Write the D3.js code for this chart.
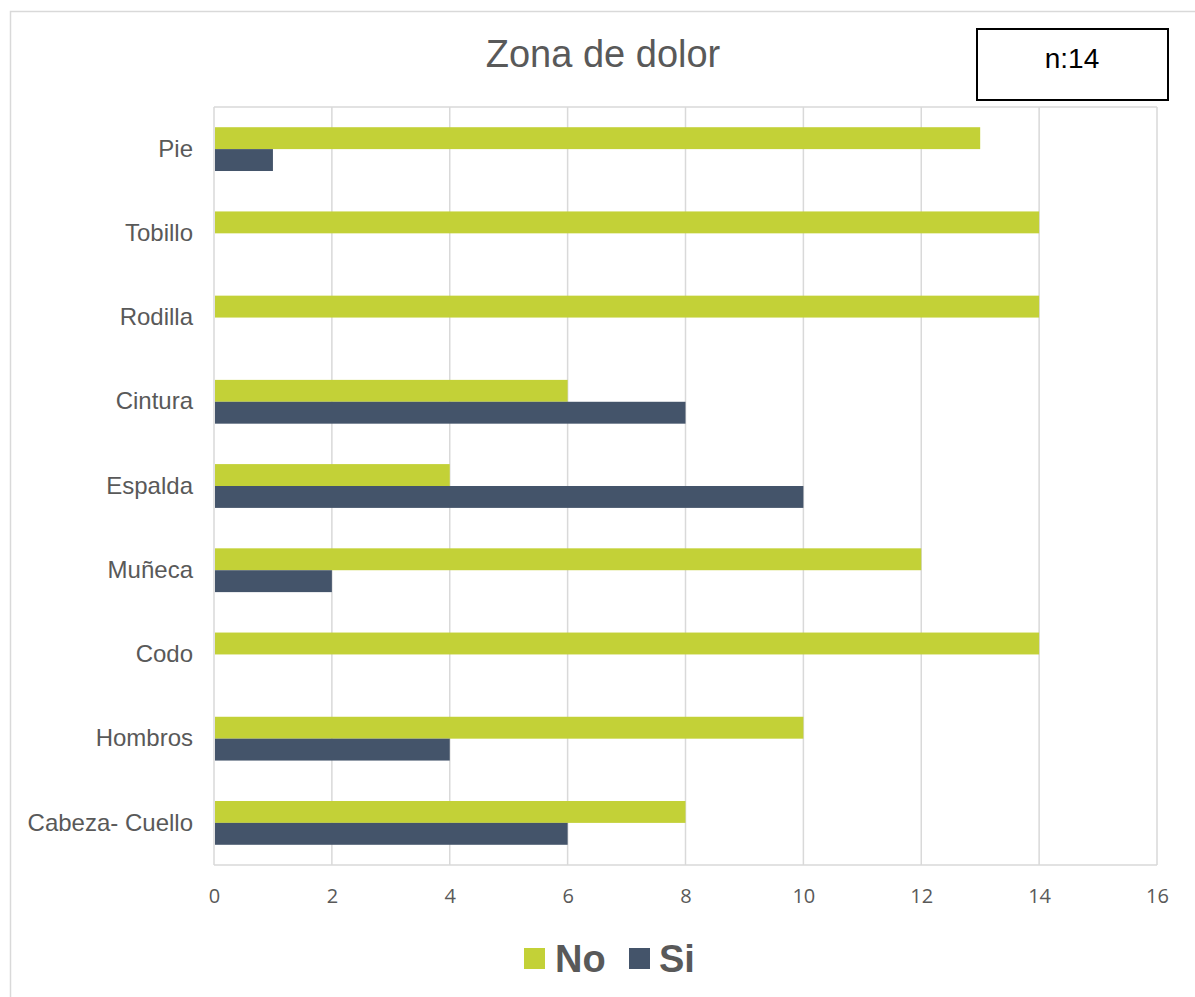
<!DOCTYPE html>
<html>
<head>
<meta charset="utf-8">
<script src="https://cdn.jsdelivr.net/npm/d3@7"></script>
<style>
  html, body { margin: 0; padding: 0; background: #fff; }
  svg { display: block; font-family: "Liberation Sans", Arial, sans-serif; }
</style>
</head>
<body>
<svg id="chart" width="1195" height="997"></svg>
<script>
// Pain zones, bottom-to-top order as listed on the axis
const categories = ["Cabeza- Cuello", "Hombros", "Codo", "Muñeca", "Espalda", "Cintura", "Rodilla", "Tobillo", "Pie"];
const noValues = [8, 10, 14, 12, 4, 6, 14, 14, 13];
const siValues = [6, 4, 0, 2, 10, 8, 0, 0, 1];
const seriesNames = ["No", "Si"];
const seriesColors = ["#c3d137", "#44546a"];
const xTicks = [0, 2, 4, 6, 8, 10, 12, 14, 16];

const svg = d3.select("#chart");
const margin = { left: 214, right: 1157, top: 107, bottom: 865 };

// Outer chart frame
svg.append("rect")
  .attr("x", 10.5).attr("y", 11.5)
  .attr("width", 1200).attr("height", 1000)
  .attr("fill", "none").attr("stroke", "#d9d9d9").attr("stroke-width", 1.5);

const x = d3.scaleLinear().domain([0, 16]).range([margin.left, margin.right]);
const y = d3.scaleBand()
  .domain(categories.slice().reverse())
  .range([margin.top, margin.bottom])
  .paddingInner(0.48).paddingOuter(0.24);
const ySub = d3.scaleBand().domain(seriesNames).range([0, y.bandwidth()]);

// Vertical gridlines
svg.append("g").selectAll("line").data(xTicks).join("line")
  .attr("x1", d => x(d)).attr("x2", d => x(d))
  .attr("y1", margin.top).attr("y2", margin.bottom)
  .attr("stroke", "#d9d9d9").attr("stroke-width", 1.5);
// Plot frame top/bottom
[margin.top, margin.bottom].forEach(yy => {
  svg.append("line").attr("x1", margin.left).attr("x2", margin.right)
    .attr("y1", yy).attr("y2", yy)
    .attr("stroke", "#d9d9d9").attr("stroke-width", 1.5);
});

// Bars
const rows = categories.map((c, i) => ({ cat: c, values: [noValues[i], siValues[i]] }));
const groups = svg.append("g").selectAll("g").data(rows).join("g")
  .attr("transform", d => `translate(0,${y(d.cat)})`);
groups.selectAll("rect")
  .data(d => d.values.map((v, j) => ({ v, s: seriesNames[j], color: seriesColors[j] })))
  .join("rect")
  .attr("x", x(0) + 1)
  .attr("y", d => ySub(d.s))
  .attr("width", d => Math.max(0, x(d.v) - x(0) - (d.v > 0 ? 1 : 0)))
  .attr("height", ySub.bandwidth())
  .attr("fill", d => d.color);

// Category labels
const yAxis = d3.axisLeft(y).tickSize(0).tickPadding(21);
const yg = svg.append("g").attr("transform", `translate(${margin.left},0)`).call(yAxis);
yg.select(".domain").remove();
yg.selectAll("text").attr("font-size", 20).attr("fill", "#595959")
  .style("font-family", "'Liberation Sans', Arial, sans-serif").style("font-size", "24px");

// Value axis labels
const xAxis = d3.axisBottom(x).tickValues(xTicks).tickSize(0).tickPadding(24);
const xg = svg.append("g").attr("transform", `translate(0,${margin.bottom})`).call(xAxis);
xg.select(".domain").remove();
xg.selectAll("text").attr("fill", "#595959")
  .style("font-family", "'Open Sans', sans-serif").style("font-size", "20px");

// Title
svg.append("text")
  .attr("x", 603).attr("y", 67)
  .attr("text-anchor", "middle")
  .attr("font-size", 38).attr("fill", "#595959")
  .text("Zona de dolor");

// Sample size box
svg.append("rect")
  .attr("x", 977).attr("y", 29).attr("width", 191).attr("height", 71)
  .attr("fill", "#fff").attr("stroke", "#000").attr("stroke-width", 2);
svg.append("text")
  .attr("x", 1072).attr("y", 68)
  .attr("text-anchor", "middle")
  .attr("font-size", 28).attr("fill", "#000")
  .text("n:14");

// Legend
const legend = svg.append("g");
const legendItems = [
  { name: "No", color: seriesColors[0], sx: 524, tx: 555 },
  { name: "Si", color: seriesColors[1], sx: 629, tx: 659 }
];
legendItems.forEach(d => {
  legend.append("rect").attr("x", d.sx).attr("y", 948).attr("width", 21).attr("height", 21).attr("fill", d.color);
  legend.append("text").attr("x", d.tx).attr("y", 972)
    .attr("font-size", 38).attr("font-weight", "bold").attr("fill", "#595959")
    .text(d.name);
});
</script>
</body>
</html>
